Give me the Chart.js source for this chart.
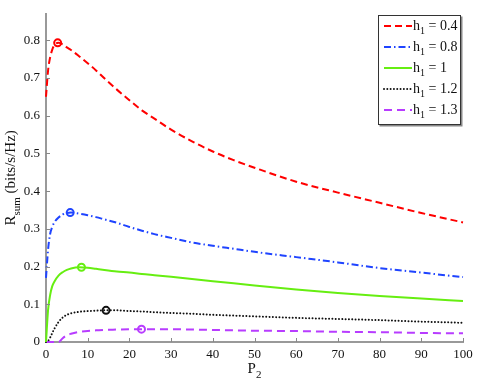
<!DOCTYPE html>
<html>
<head>
<meta charset="utf-8">
<script src="https://cdn.jsdelivr.net/npm/chart.js@4"></script>
<style>
  html, body { margin: 0; padding: 0; background: #fff; }
  #wrap { width: 478px; height: 382px; }
</style>
</head>
<body>
<div id="wrap"><canvas id="rsumChart" width="478" height="382"></canvas></div>
<script>
// P2 sample points (shared by all curves)
const p2Values = [0, 0.5, 1, 1.5, 2, 3, 4, 5, 6, 8, 10, 12, 14, 17, 20, 23, 26, 30, 35, 40, 45, 50, 60, 70, 80, 90, 100];

// R_sum for each h1
const rsumH04 = [0.65, 0.72, 0.755, 0.775, 0.787, 0.793, 0.789, 0.781, 0.774, 0.757, 0.739, 0.720, 0.699, 0.669, 0.641, 0.614, 0.592, 0.563, 0.532, 0.505, 0.482, 0.462, 0.425, 0.396, 0.369, 0.342, 0.317];
const rsumH08 = [0.17, 0.245, 0.287, 0.305, 0.317, 0.330, 0.338, 0.342, 0.343, 0.340, 0.336, 0.331, 0.325, 0.316, 0.305, 0.295, 0.286, 0.276, 0.264, 0.255, 0.247, 0.239, 0.225, 0.211, 0.196, 0.184, 0.172];
const rsumH10 = [0, 0.085, 0.125, 0.148, 0.160, 0.176, 0.185, 0.191, 0.195, 0.198, 0.197, 0.194, 0.191, 0.187, 0.184, 0.180, 0.177, 0.173, 0.167, 0.161, 0.156, 0.150, 0.139, 0.130, 0.122, 0.115, 0.109];
const rsumH12 = [0, 0.003, 0.012, 0.024, 0.035, 0.053, 0.065, 0.072, 0.076, 0.080, 0.082, 0.083, 0.084, 0.084, 0.082, 0.081, 0.079, 0.077, 0.075, 0.072, 0.070, 0.068, 0.064, 0.061, 0.058, 0.054, 0.051];
const rsumH13 = [0, 0, 0, 0, 0, 0, 0.010, 0.018, 0.022, 0.027, 0.029, 0.031, 0.032, 0.033, 0.034, 0.034, 0.034, 0.034, 0.033, 0.032, 0.031, 0.030, 0.029, 0.027, 0.026, 0.024, 0.023];

// maximum points marked with circles
const peakP2 = [2.8, 5.8, 8.5, 14.4, 22.9];
const peakRsum = [0.793, 0.343, 0.198, 0.084, 0.034];

// legend values of h1
const h1Labels = ['0.4', '0.8', '1', '1.2', '1.3'];

// tick labels
const xTickValues = [0, 10, 20, 30, 40, 50, 60, 70, 80, 90, 100];
const yTickValues = [0, 0.1, 0.2, 0.3, 0.4, 0.5, 0.6, 0.7, 0.8];

const seriesData = [rsumH04, rsumH08, rsumH10, rsumH12, rsumH13];
const seriesColors = ['#ff0000', '#1f44ff', '#66ee11', '#111111', '#b83cff'];
const seriesDashes = [[7, 4], [7, 3, 1.5, 3], [], [0.01, 3.3], [8, 5]];
const seriesCaps = ['butt', 'butt', 'butt', 'round', 'butt'];

const serif = "'Liberation Serif', 'DejaVu Serif', serif";

const lineSets = seriesData.map(function(vals, i) {
  return {
    label: 'h1 = ' + h1Labels[i],
    data: p2Values.map(function(p, k) { return { x: p, y: vals[k] }; }),
    borderColor: seriesColors[i],
    borderWidth: 2,
    borderDash: seriesDashes[i],
    borderCapStyle: seriesCaps[i],
    pointRadius: 0,
    fill: false,
    clip: 4,
    cubicInterpolationMode: 'monotone',
    order: 2
  };
});

const peakSets = peakP2.map(function(p, i) {
  return {
    label: 'peak ' + h1Labels[i],
    data: [{ x: p, y: peakRsum[i] }],
    showLine: false,
    pointRadius: 3.5,
    pointBorderWidth: 2,
    pointBorderColor: seriesColors[i],
    pointBackgroundColor: 'rgba(255,255,255,0)',
    order: 1
  };
});

// draw text pieces with subscripts
function measureParts(ctx, parts, size) {
  let w = 0;
  parts.forEach(function(p) {
    ctx.font = (p.sub ? Math.round(size * 0.72) : size) + 'px ' + serif;
    w += ctx.measureText(p.t).width;
  });
  return w;
}
function drawParts(ctx, parts, x, y, size) {
  parts.forEach(function(p) {
    ctx.font = (p.sub ? Math.round(size * 0.72) : size) + 'px ' + serif;
    ctx.fillText(p.t, x, p.sub ? y + size * 0.3 : y);
    x += ctx.measureText(p.t).width;
  });
}

const extrasPlugin = {
  id: 'extras',
  afterDraw(chart) {
    const ctx = chart.ctx;
    const area = chart.chartArea;
    const xs = chart.scales.x, ys = chart.scales.y;
    ctx.save();

    // ticks pointing into the plot
    ctx.strokeStyle = '#888';
    ctx.lineWidth = 1;
    xs.ticks.forEach(function(t) {
      if (t.value === 0) return;
      const px = Math.round(xs.getPixelForValue(t.value)) + 0.5;
      ctx.beginPath(); ctx.moveTo(px, area.bottom); ctx.lineTo(px, area.bottom - 4); ctx.stroke();
    });
    ys.ticks.forEach(function(t) {
      if (t.value === 0) return;
      const py = Math.round(ys.getPixelForValue(t.value)) + 0.5;
      ctx.beginPath(); ctx.moveTo(area.left, py); ctx.lineTo(area.left + 4, py); ctx.stroke();
    });

    ctx.fillStyle = '#111';
    ctx.textBaseline = 'alphabetic';
    ctx.textAlign = 'left';

    // x title P2
    const xParts = [{ t: 'P' }, { t: '2', sub: true }];
    const xw = measureParts(ctx, xParts, 15);
    drawParts(ctx, xParts, (area.left + area.right) / 2 - xw / 2, 373, 15);

    // y title R_sum (bits/s/Hz)
    const yParts = [{ t: 'R' }, { t: 'sum', sub: true }, { t: ' (bits/s/Hz)' }];
    const yw = measureParts(ctx, yParts, 15);
    ctx.save();
    ctx.translate(15, (area.top + area.bottom) / 2);
    ctx.rotate(-Math.PI / 2);
    drawParts(ctx, yParts, -yw / 2, 0, 15);
    ctx.restore();

    // legend box
    const bx = 378.5, by = 15.5, bw = 82, bh = 109;
    ctx.fillStyle = '#888';
    ctx.fillRect(bx + 1, by + 1, bw + 1, bh + 1);
    ctx.fillStyle = '#fff';
    ctx.fillRect(bx, by, bw, bh);
    ctx.strokeStyle = '#333';
    ctx.lineWidth = 1;
    ctx.strokeRect(bx, by, bw, bh);

    h1Labels.forEach(function(lab, i) {
      const ry = 26 + i * 21;
      ctx.save();
      ctx.strokeStyle = seriesColors[i];
      ctx.lineWidth = 2;
      ctx.lineCap = seriesCaps[i];
      ctx.setLineDash(seriesDashes[i]);
      ctx.beginPath(); ctx.moveTo(384, ry); ctx.lineTo(412, ry); ctx.stroke();
      ctx.restore();
      ctx.fillStyle = '#111';
      drawParts(ctx, [{ t: 'h' }, { t: '1', sub: true }, { t: ' = ' + lab }], 413, ry + 4, 14);
    });

    ctx.restore();
  }
};

const ctx = document.getElementById('rsumChart').getContext('2d');
const chart = new Chart(ctx, {
  type: 'line',
  data: { datasets: lineSets.concat(peakSets) },
  options: {
    responsive: false,
    animation: false,
    devicePixelRatio: 1,
    layout: { padding: { top: 12, right: 15, left: 0, bottom: 0 } },
    plugins: { legend: { display: false }, tooltip: { enabled: false } },
    scales: {
      x: {
        type: 'linear',
        min: 0,
        max: 100,
        afterFit: function(s) { s.height = 40; },
        afterBuildTicks: function(s) { s.ticks = xTickValues.map(function(v) { return { value: v }; }); },
        grid: { drawOnChartArea: false, drawTicks: false },
        border: { color: '#999', width: 2 },
        ticks: {
          padding: 5,
          color: '#111',
          font: { family: serif, size: 13 },
          callback: function(v) { return String(v); }
        }
      },
      y: {
        min: 0,
        max: 0.87,
        afterFit: function(s) { s.width = 46; },
        afterBuildTicks: function(s) { s.ticks = yTickValues.map(function(v) { return { value: v }; }); },
        grid: { drawOnChartArea: false, drawTicks: false },
        border: { color: '#999', width: 2 },
        ticks: {
          padding: 6,
          color: '#111',
          font: { family: serif, size: 13 },
          callback: function(v) { return v === 0 ? '0' : v.toFixed(1); }
        }
      }
    }
  },
  plugins: [extrasPlugin]
});
</script>
</body>
</html>
